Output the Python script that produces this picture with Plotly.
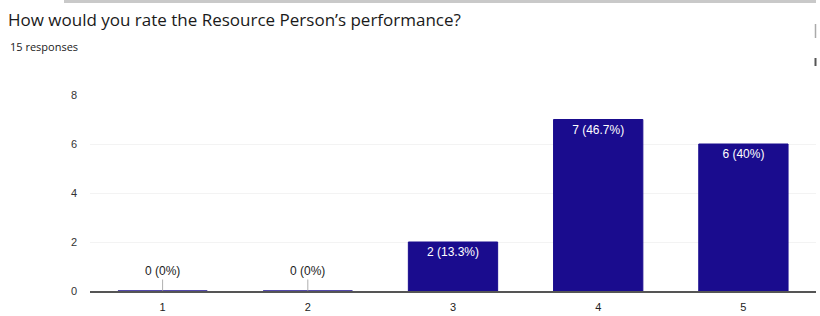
import plotly.graph_objects as go

categories = ["1", "2", "3", "4", "5"]
counts = [0, 0, 2, 7, 6]
labels = ["0 (0%)", "0 (0%)", "2 (13.3%)", "7 (46.7%)", "6 (40%)"]
y_ticks = [0, 2, 4, 6, 8]

BAR = "#1a0c8e"

W, H = 820, 316
L, R, T, B = 90, 4, 95, 25
pw = W - L - R
ph = H - T - B

def px_x(x):
    return (x - L) / pw

def px_y(y):
    return (H - B - y) / ph

inside_text = [t if v > 0 else "" for t, v in zip(labels, counts)]

fig = go.Figure()
fig.add_trace(go.Bar(
    x=categories, y=counts,
    marker=dict(color=BAR, line=dict(color=BAR, width=1)),
    text=inside_text, textposition="inside", insidetextanchor="end",
    textfont=dict(color="white", size=12, family="Liberation Sans, Arial"),
    textangle=0, cliponaxis=False, hoverinfo="skip",
))

for i, (c, v, t) in enumerate(zip(categories, counts, labels)):
    if v == 0:
        fig.add_annotation(
            x=i, y=v, xref="x", yref="y", text=t,
            showarrow=True, arrowhead=0, arrowwidth=0.8, arrowcolor="#9a9a9a",
            ax=0, ay=-20, standoff=0,
            font=dict(size=12, color="#222", family="Liberation Sans, Arial"),
        )

fig.add_annotation(
    x=px_x(8), y=px_y(47), xref="paper", yref="paper",
    xanchor="left", yanchor="middle", showarrow=False,
    text="15 responses", font=dict(size=11, color="#1a1a1a", family="Open Sans, Arial"),
)

# top page border and right edge marks
fig.add_shape(type="rect", xref="paper", yref="paper",
              x0=px_x(64), x1=px_x(816), y0=px_y(3), y1=px_y(0),
              fillcolor="#c9c9c9", line=dict(width=0), layer="above")
fig.add_shape(type="line", xref="paper", yref="paper",
              x0=px_x(815.5), x1=px_x(815.5), y0=px_y(24), y1=px_y(38),
              line=dict(color="#aaaaaa", width=1.5))
fig.add_shape(type="line", xref="paper", yref="paper",
              x0=px_x(815.5), x1=px_x(815.5), y0=px_y(58), y1=px_y(66),
              line=dict(color="#555555", width=2))

fig.update_layout(
    width=W, height=H,
    margin=dict(l=L, r=R, t=T, b=B),
    paper_bgcolor="white", plot_bgcolor="white",
    bargap=0.385,
    showlegend=False,
    title=dict(
        text="How would you rate the Resource Person\u2019s performance?",
        x=8 / W, xanchor="left", xref="container",
        y=1 - 20 / H, yanchor="middle", yref="container",
        font=dict(size=17, color="#1a1a1a", family="Open Sans, Arial"),
    ),
    xaxis=dict(
        type="category", showline=True, linecolor="#555555", linewidth=1.8,
        ticks="", showgrid=False,
        tickfont=dict(size=11, color="#222", family="Liberation Sans, Arial"),
        ticklabelstandoff=5,
    ),
    yaxis=dict(
        range=[0, 8], tickvals=y_ticks, showgrid=True, gridcolor="#f3f3f3",
        zeroline=False, showline=False, ticks="",
        tickfont=dict(size=11, color="#333", family="Liberation Sans, Arial"),
        ticklabelstandoff=12,
    ),
)

fig.write_html("out.html", config={"displayModeBar": False},
               post_script="document.body.style.margin='0';")
